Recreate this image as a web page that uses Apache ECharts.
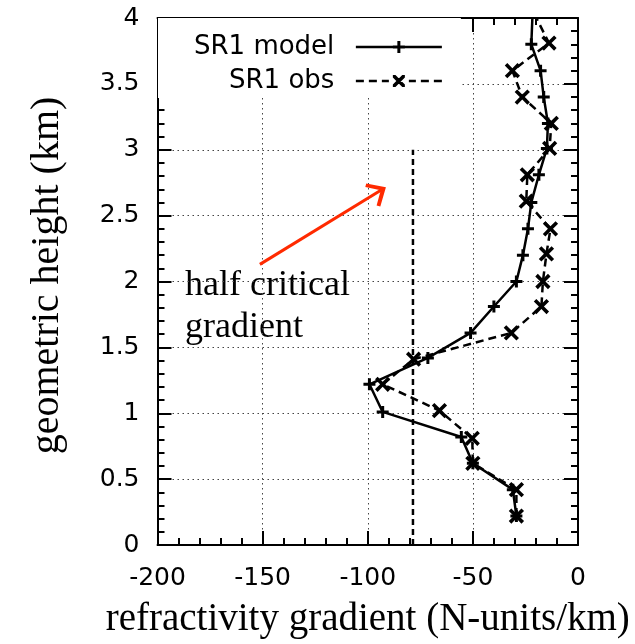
<!DOCTYPE html>
<html><head><meta charset="utf-8">
<script src="https://cdn.jsdelivr.net/npm/echarts@6/dist/echarts.min.js"></script>
<style>html,body{margin:0;padding:0;background:#fff}#c{width:635px;height:644px}</style>
</head><body><div id="c"></div>
<script>
// ---- data ----
const heightsModel = [0.22,0.42,0.62,0.82,1.01,1.22,1.42,1.61,1.81,2.0,2.2,2.4,2.6,2.81,3.01,3.2,3.4,3.6,3.8,4.0];
const gradModel    = [-29.3,-31,-50,-55.5,-92.9,-99.2,-71.4,-51.1,-40,-29.3,-26.2,-23.8,-22.2,-18.6,-14.8,-14.3,-16.3,-17.8,-22.2,-21.7];
const heightsObs   = [0.22,0.42,0.62,0.81,1.02,1.22,1.41,1.61,1.81,2.0,2.21,2.4,2.61,2.81,3.01,3.2,3.4,3.6,3.81,4.0];
const gradObs      = [-29.3,-29.3,-50,-50.3,-65.9,-92.9,-78.2,-31.7,-17.4,-16.7,-15,-13.1,-24.6,-24.1,-13.5,-12.7,-26.5,-31.2,-13.8,-19.8];
const halfCriticalX = [-78.5,-78.5];
const halfCriticalY = [0,3.0];
const arrowStart = [-151.3, 2.13];
const arrowEnd   = [-93.0, 2.70];
const seriesNames = ['SR1 model','SR1 obs'];
const annotationText = 'half critical\ngradient';
const xTitle = 'refractivity gradient (N-units/km)';
const yTitle = 'geometric height (km)';

// ---- styling ----
const serif = '"Liberation Serif","Times New Roman",serif';
const sans = '"DejaVu Sans",sans-serif';
const plusPath  = 'path://M-2,-8H2V-2H8V2H2V8H-2V2H-8V-2H-2Z';
const crossPath = 'path://M-1.6,-8H1.6V-1.6H8V1.6H1.6V8H-1.6V1.6H-8V-1.6H-1.6Z';
const chevron   = 'path://M10,0L20,11L18,13L10,4.5L2,13L0,11ZM10,-7L10.01,-7Z';
// legend glyphs (line sample + marker), 86 x 14 box
const legendModelIcon = 'path://M0,0L0.01,0ZM0,14L0.01,14Z' +
  'M0,5.75H86V8.25H0Z' +
  'M41.5,1H44.5V5.5H49V8.5H44.5V13H41.5V8.5H37V5.5H41.5Z';
const legendObsIcon = 'path://M0,0L0.01,0ZM0,14L0.01,14Z' +
  'M0,5.75H8V8.25H0ZM13,5.75H21V8.25H13ZM26,5.75H33V8.25H26Z' +
  'M53,5.75H60V8.25H53ZM65,5.75H73V8.25H65ZM78,5.75H86V8.25H78Z' +
  'M37,1L39.6,1L49,10.4L49,13L46.4,13L37,3.6Z' +
  'M49,1L49,3.6L39.6,13L37,13L37,10.4L46.4,1Z';

function pts(xs, ys, hideLast){
  return xs.map((x,i)=> (hideLast && i===xs.length-1) ? {value:[x,ys[i]], symbol:'none'} : [x, ys[i]]);
}

const frameLine = {show:true,onZero:false,lineStyle:{color:'#000',width:2}};
const majTick = {show:true,inside:true,length:14,lineStyle:{color:'#000',width:2}};
const minTick = {show:true,splitNumber:5,length:7,lineStyle:{color:'#000',width:2}};
const grid = {show:true,lineStyle:{color:'#444',width:1,type:[1.5,3.5]}};

const chart = echarts.init(document.getElementById('c'), null, {renderer:'canvas'});
chart.setOption({
  animation:false,
  backgroundColor:'#fff',
  grid:{left:157.5,right:57,top:18,bottom:92,containLabel:false},
  xAxis:[
    {type:'value',min:-200,max:0,interval:50,position:'bottom',
     name:xTitle,nameLocation:'middle',nameGap:55,
     nameTextStyle:{fontFamily:serif,fontSize:39,color:'#000'},
     axisLine:frameLine,axisTick:majTick,minorTick:minTick,
     axisLabel:{fontFamily:sans,fontSize:25,color:'#000',margin:21},
     splitLine:grid},
    {type:'value',min:-200,max:0,interval:50,position:'top',
     axisLine:frameLine,axisTick:majTick,minorTick:minTick,
     axisLabel:{show:false},splitLine:{show:false}}
  ],
  yAxis:[
    {type:'value',min:0,max:4,interval:0.5,position:'left',
     name:yTitle,nameLocation:'middle',nameGap:90,nameRotate:90,
     nameTextStyle:{fontFamily:serif,fontSize:40,color:'#000',padding:[0,0,0,12]},
     axisLine:frameLine,axisTick:majTick,minorTick:minTick,
     axisLabel:{fontFamily:sans,fontSize:25,color:'#000',margin:18},
     splitLine:grid},
    {type:'value',min:0,max:4,interval:0.5,position:'right',
     axisLine:frameLine,axisTick:majTick,minorTick:minTick,
     axisLabel:{show:false},splitLine:{show:false}}
  ],
  legend:{
    data:[{name:seriesNames[0],icon:legendModelIcon},{name:seriesNames[1],icon:legendObsIcon}],
    orient:'vertical',align:'right',left:158,top:18,
    itemWidth:86,itemHeight:14,itemGap:8,padding:[16,19,4,36],
    backgroundColor:'#fff',selectedMode:false,
    formatter:n=>n+'  ',
    itemStyle:{color:'#000',borderWidth:0},
    textStyle:{fontFamily:sans,fontSize:26,color:'#000',lineHeight:26}
  },
  graphic:[{
    type:'text',left:185,top:265,silent:true,
    style:{text:annotationText,font:'36px '+serif,fill:'#000',lineHeight:42}
  }],
  series:[
    {name:seriesNames[0],type:'line',data:pts(gradModel,heightsModel,true),
     symbol:plusPath,symbolSize:12,showAllSymbol:true,
     lineStyle:{color:'#000',width:2.5},itemStyle:{color:'#000',borderWidth:0},z:4},
    {name:seriesNames[1],type:'line',data:pts(gradObs,heightsObs,true),
     symbol:crossPath,symbolSize:18,symbolRotate:45,showAllSymbol:true,
     lineStyle:{color:'#000',width:2.5,type:[8,5]},itemStyle:{color:'#000',borderWidth:0},z:4},
    {name:'half critical gradient',type:'line',data:pts(halfCriticalX,halfCriticalY,false),
     symbol:'none',lineStyle:{color:'#000',width:2.5,type:[6,4]},z:3,silent:true,
     markLine:{silent:true,symbol:['none',chevron],symbolSize:27,
       label:{show:false},
       lineStyle:{color:'#ff2a00',width:3,type:'solid'},
       emphasis:{disabled:true},
       data:[[{coord:arrowStart},{coord:arrowEnd}]]}}
  ]
});
</script></body></html>
